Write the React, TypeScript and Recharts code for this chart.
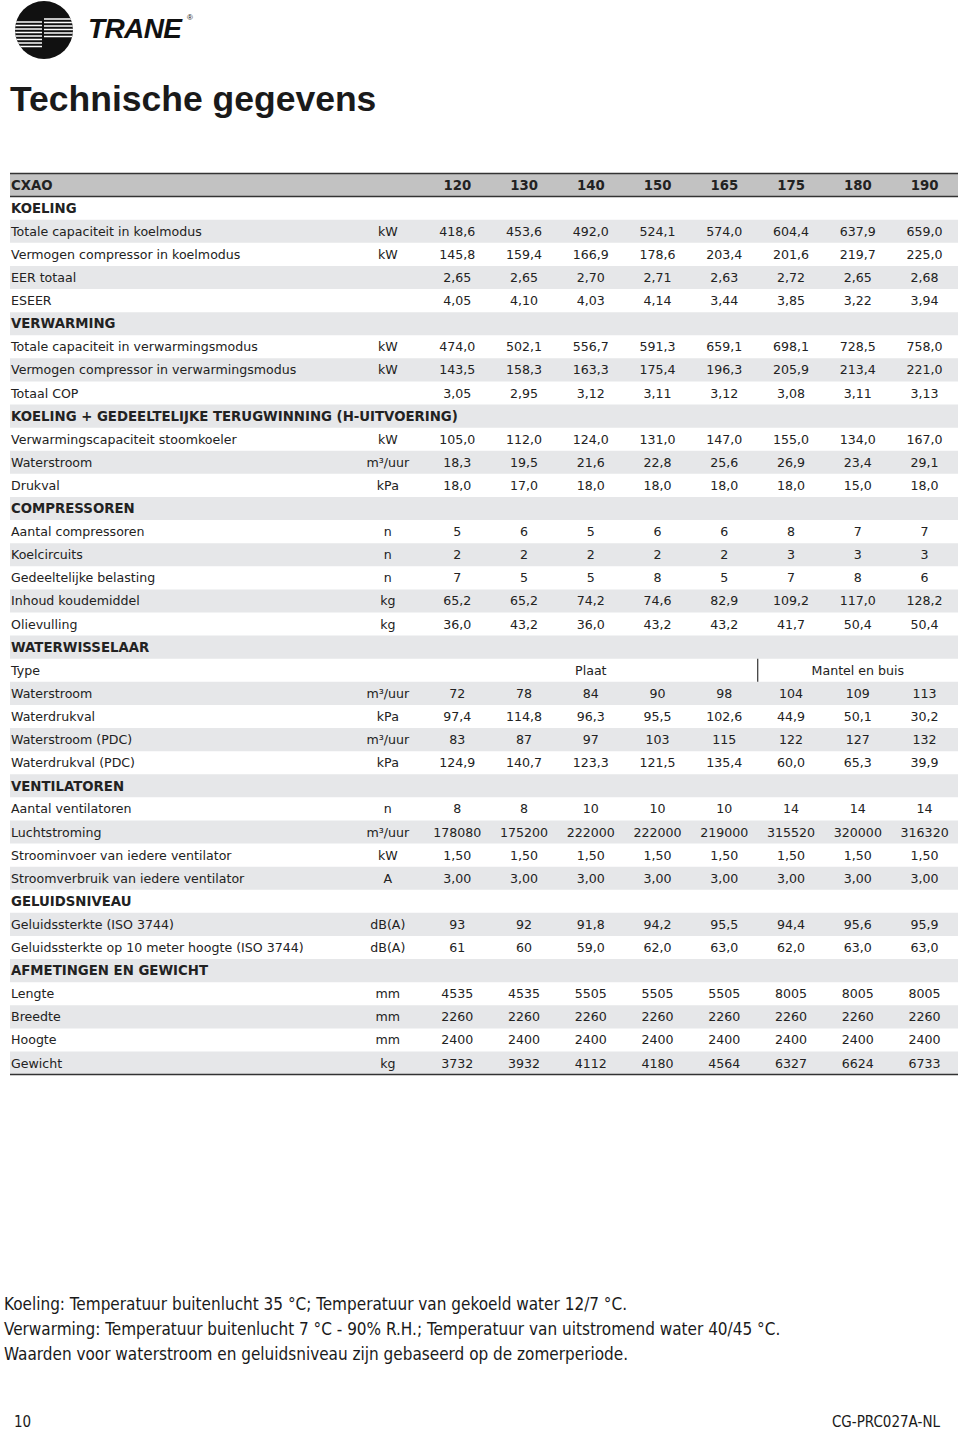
import { ReferenceArea, ReferenceLine, Scatter, ScatterChart, XAxis, YAxis } from "recharts";

type Row = [string, string, string[]];

const models = ["120", "130", "140", "150", "165", "175", "180", "190"];

const koeling: Row[] = [
  ["Totale capaciteit in koelmodus", "kW", ["418,6", "453,6", "492,0", "524,1", "574,0", "604,4", "637,9", "659,0"]],
  ["Vermogen compressor in koelmodus", "kW", ["145,8", "159,4", "166,9", "178,6", "203,4", "201,6", "219,7", "225,0"]],
  ["EER totaal", "", ["2,65", "2,65", "2,70", "2,71", "2,63", "2,72", "2,65", "2,68"]],
  ["ESEER", "", ["4,05", "4,10", "4,03", "4,14", "3,44", "3,85", "3,22", "3,94"]],
];

const verwarming: Row[] = [
  ["Totale capaciteit in verwarmingsmodus", "kW", ["474,0", "502,1", "556,7", "591,3", "659,1", "698,1", "728,5", "758,0"]],
  ["Vermogen compressor in verwarmingsmodus", "kW", ["143,5", "158,3", "163,3", "175,4", "196,3", "205,9", "213,4", "221,0"]],
  ["Totaal COP", "", ["3,05", "2,95", "3,12", "3,11", "3,12", "3,08", "3,11", "3,13"]],
];

const terugwinning: Row[] = [
  ["Verwarmingscapaciteit stoomkoeler", "kW", ["105,0", "112,0", "124,0", "131,0", "147,0", "155,0", "134,0", "167,0"]],
  ["Waterstroom", "m³/uur", ["18,3", "19,5", "21,6", "22,8", "25,6", "26,9", "23,4", "29,1"]],
  ["Drukval", "kPa", ["18,0", "17,0", "18,0", "18,0", "18,0", "18,0", "15,0", "18,0"]],
];

const compressoren: Row[] = [
  ["Aantal compressoren", "n", ["5", "6", "5", "6", "6", "8", "7", "7"]],
  ["Koelcircuits", "n", ["2", "2", "2", "2", "2", "3", "3", "3"]],
  ["Gedeeltelijke belasting", "n", ["7", "5", "5", "8", "5", "7", "8", "6"]],
  ["Inhoud koudemiddel", "kg", ["65,2", "65,2", "74,2", "74,6", "82,9", "109,2", "117,0", "128,2"]],
  ["Olievulling", "kg", ["36,0", "43,2", "36,0", "43,2", "43,2", "41,7", "50,4", "50,4"]],
];

// type row: groups of models sharing one exchanger type
const exchangerTypes = [
  { text: "Plaat", from: 0, to: 4 },
  { text: "Mantel en buis", from: 5, to: 7 },
];

const waterwisselaar: Row[] = [
  ["Waterstroom", "m³/uur", ["72", "78", "84", "90", "98", "104", "109", "113"]],
  ["Waterdrukval", "kPa", ["97,4", "114,8", "96,3", "95,5", "102,6", "44,9", "50,1", "30,2"]],
  ["Waterstroom (PDC)", "m³/uur", ["83", "87", "97", "103", "115", "122", "127", "132"]],
  ["Waterdrukval (PDC)", "kPa", ["124,9", "140,7", "123,3", "121,5", "135,4", "60,0", "65,3", "39,9"]],
];

const ventilatoren: Row[] = [
  ["Aantal ventilatoren", "n", ["8", "8", "10", "10", "10", "14", "14", "14"]],
  ["Luchtstroming", "m³/uur", ["178080", "175200", "222000", "222000", "219000", "315520", "320000", "316320"]],
  ["Stroominvoer van iedere ventilator", "kW", ["1,50", "1,50", "1,50", "1,50", "1,50", "1,50", "1,50", "1,50"]],
  ["Stroomverbruik van iedere ventilator", "A", ["3,00", "3,00", "3,00", "3,00", "3,00", "3,00", "3,00", "3,00"]],
];

const geluid: Row[] = [
  ["Geluidssterkte (ISO 3744)", "dB(A)", ["93", "92", "91,8", "94,2", "95,5", "94,4", "95,6", "95,9"]],
  ["Geluidssterkte op 10 meter hoogte (ISO 3744)", "dB(A)", ["61", "60", "59,0", "62,0", "63,0", "62,0", "63,0", "63,0"]],
];

const afmetingen: Row[] = [
  ["Lengte", "mm", ["4535", "4535", "5505", "5505", "5505", "8005", "8005", "8005"]],
  ["Breedte", "mm", ["2260", "2260", "2260", "2260", "2260", "2260", "2260", "2260"]],
  ["Hoogte", "mm", ["2400", "2400", "2400", "2400", "2400", "2400", "2400", "2400"]],
  ["Gewicht", "kg", ["3732", "3932", "4112", "4180", "4564", "6327", "6624", "6733"]],
];

const sections: { title: string; rows: Row[]; typeRow?: boolean }[] = [
  { title: "KOELING", rows: koeling },
  { title: "VERWARMING", rows: verwarming },
  { title: "KOELING + GEDEELTELIJKE TERUGWINNING (H-UITVOERING)", rows: terugwinning },
  { title: "COMPRESSOREN", rows: compressoren },
  { title: "WATERWISSELAAR", rows: waterwisselaar, typeRow: true },
  { title: "VENTILATOREN", rows: ventilatoren },
  { title: "GELUIDSNIVEAU", rows: geluid },
  { title: "AFMETINGEN EN GEWICHT", rows: afmetingen },
];

const footnotes = [
  "Koeling: Temperatuur buitenlucht 35 °C; Temperatuur van gekoeld water 12/7 °C.",
  "Verwarming: Temperatuur buitenlucht 7 °C - 90% R.H.; Temperatuur van uitstromend water 40/45 °C.",
  "Waarden voor waterstroom en geluidsniveau zijn gebaseerd op de zomerperiode.",
];

// column positions on the x scale (model columns are 0..7)
const LABEL_COL = -6.7;
const UNIT_COL = -1.04;
const X_DOMAIN: [number, number] = [-6.7, 7.5];

type Cell = { col: number; row: number; text: string; bold?: boolean; anchor: "start" | "middle" };

const labelCells: Cell[] = [];
const unitCells: Cell[] = [];
const valueCells: Cell[] = [];
let typeRowIndex = 0;

labelCells.push({ col: LABEL_COL, row: 0, text: "CXAO", bold: true, anchor: "start" });
models.forEach((m, i) => valueCells.push({ col: i, row: 0, text: m, bold: true, anchor: "middle" }));

let r = 1;
sections.forEach((s) => {
  labelCells.push({ col: LABEL_COL, row: r, text: s.title, bold: true, anchor: "start" });
  r++;
  if (s.typeRow) {
    typeRowIndex = r;
    labelCells.push({ col: LABEL_COL, row: r, text: "Type", anchor: "start" });
    exchangerTypes.forEach((t) =>
      valueCells.push({ col: (t.from + t.to) / 2, row: r, text: t.text, anchor: "middle" })
    );
    r++;
  }
  s.rows.forEach(([label, unit, values]) => {
    labelCells.push({ col: LABEL_COL, row: r, text: label, anchor: "start" });
    if (unit) unitCells.push({ col: UNIT_COL, row: r, text: unit, anchor: "middle" });
    values.forEach((v, i) => valueCells.push({ col: i, row: r, text: v, anchor: "middle" }));
    r++;
  });
});
const rowCount = r;

const TEXT = "#222";
const FONT = "'DejaVu Sans', Verdana, sans-serif";
const NARROW = "'Liberation Sans Narrow', 'DejaVu Sans Condensed', 'Liberation Sans', sans-serif";

const CellText = (props: any) => {
  const { cx, cy, payload } = props;
  if (cx == null || cy == null) return null;
  return (
    <text
      x={payload.anchor === "start" ? cx + 1 : cx}
      y={cy}
      dy="0.36em"
      textAnchor={payload.anchor}
      fontFamily={FONT}
      fontSize={payload.bold ? 13.3 : 12.6}
      fontWeight={payload.bold ? 700 : 400}
      fill={TEXT}
    >
      {payload.text}
    </text>
  );
};

const Logo = () => (
  <svg width={200} height={64} style={{ position: "absolute", left: 0, top: 0 }}>
    <defs>
      <clipPath id="logoClip">
        <circle cx={44} cy={30} r={29} />
      </clipPath>
    </defs>
    <circle cx={44} cy={30} r={29} fill="#111" />
    <g clipPath="url(#logoClip)" stroke="#fff" strokeWidth={1.4}>
      {[19, 22.5, 26, 29.5, 33, 36.5].map((y) => (
        <line key={"a" + y} x1={44} x2={76} y1={y} y2={y} />
      ))}
      {[22, 25.5, 29, 32.5, 36, 39.5, 43, 46.5].map((y) => (
        <line key={"b" + y} x1={12} x2={42} y1={y} y2={y} />
      ))}
    </g>
    <text
      x={88}
      y={38}
      fontFamily="'Liberation Sans', Arial, sans-serif"
      fontWeight={900}
      fontStyle="italic"
      fontSize={28}
      fill="#111"
      letterSpacing={-0.6}
    >
      TRANE
    </text>
    <text x={187} y={20} fontFamily="'Liberation Sans', Arial" fontSize={8} fill="#111">
      ®
    </text>
  </svg>
);

export default function App() {
  return (
    <div style={{ position: "absolute", left: 0, top: 0, width: 960, height: 1430, background: "#fff" }}>
      <Logo />
      <div
        style={{
          position: "absolute",
          left: 10,
          top: 79,
          fontFamily: "'Liberation Sans', Arial, sans-serif",
          fontWeight: 700,
          fontSize: 35.5,
          lineHeight: "40px",
          color: "#1a1a1a",
          whiteSpace: "nowrap",
        }}
      >
        Technische gegevens
      </div>

      <div style={{ position: "absolute", left: 0, top: 0 }}>
        <ScatterChart width={960} height={1430} margin={{ top: 173.5, right: 2, bottom: 355.4, left: 10 }}>
          <XAxis type="number" dataKey="col" domain={X_DOMAIN} hide />
          <YAxis type="number" dataKey="row" domain={[-0.5, rowCount - 0.5]} reversed hide />
          <ReferenceArea y1={-0.5} y2={0.5} fill="#c2c2c2" fillOpacity={1} stroke="none" ifOverflow="visible" />
          {Array.from({ length: rowCount }, (_, i) => i)
            .filter((i) => i > 0 && i % 2 === 0)
            .map((i) => (
              <ReferenceArea
                key={i}
                y1={i - 0.5}
                y2={i + 0.5}
                fill="#e6e7e9"
                fillOpacity={1}
                stroke="none"
                ifOverflow="visible"
              />
            ))}
          <ReferenceLine y={-0.5} stroke="#333" strokeWidth={1.5} />
          <ReferenceLine y={0.5} stroke="#333" strokeWidth={1.5} />
          <ReferenceLine y={rowCount - 0.5} stroke="#333" strokeWidth={1.5} />
          <ReferenceLine
            segment={[
              { x: exchangerTypes[0].to + 0.5, y: typeRowIndex - 0.5 },
              { x: exchangerTypes[0].to + 0.5, y: typeRowIndex + 0.5 },
            ]}
            stroke="#333"
            strokeWidth={1.2}
          />
          <Scatter data={labelCells} shape={CellText} isAnimationActive={false} />
          <Scatter data={unitCells} shape={CellText} isAnimationActive={false} />
          <Scatter data={valueCells} shape={CellText} isAnimationActive={false} />
        </ScatterChart>
      </div>

      {footnotes.map((t, i) => (
        <div
          key={i}
          style={{
            position: "absolute",
            left: 4,
            top: 1294 + i * 25,
            fontFamily: NARROW,
            fontSize: 17,
            color: "#1a1a1a",
            whiteSpace: "nowrap",
          }}
        >
          {t}
        </div>
      ))}
      <div
        style={{ position: "absolute", left: 14, top: 1413, fontFamily: NARROW, fontSize: 15, color: "#1a1a1a" }}
      >
        10
      </div>
      <div
        style={{ position: "absolute", right: 20, top: 1413, fontFamily: NARROW, fontSize: 15, color: "#1a1a1a" }}
      >
        CG-PRC027A-NL
      </div>
    </div>
  );
}
